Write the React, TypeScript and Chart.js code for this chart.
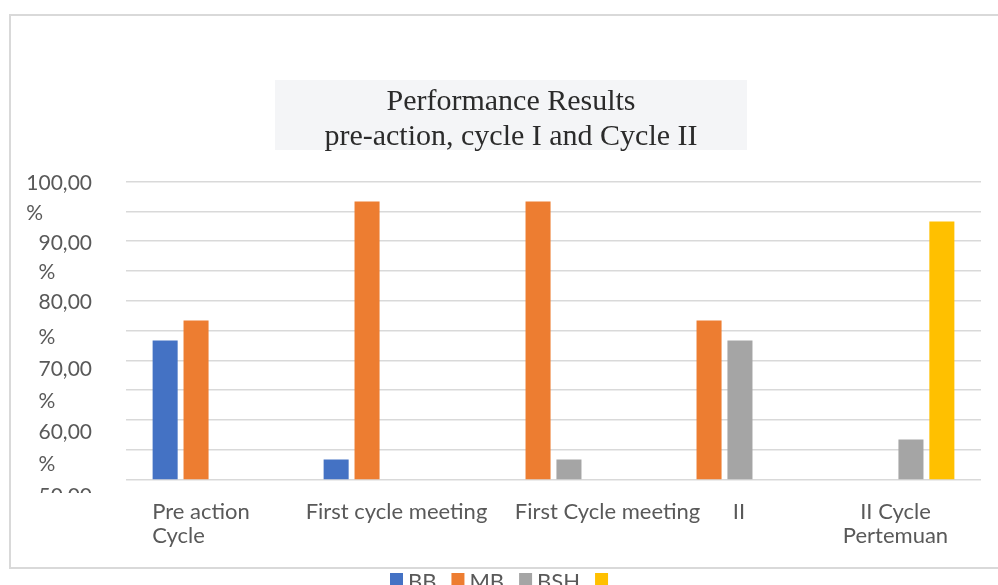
import React, { useEffect, useRef } from "react";
import { Chart, registerables } from "chart.js";

Chart.register(...registerables);

// ---- data ----
const categories = ["Pre action Cycle", "First cycle meeting", "First Cycle meeting", "II", "II Cycle Pertemuan"];
const categoryLines = [["Pre action", "Cycle"], ["First cycle meeting"], ["First Cycle meeting"], ["II"], ["II Cycle", "Pertemuan"]];
const seriesNames = ["BB", "MB", "BSH", "BSB"];
const legendLabels = ["BB", "MB", "BSH", ""];
const bbValues = [73.33, 53.33, null, null, null];
const mbValues = [76.67, 96.67, 96.67, 76.67, null];
const bshValues = [null, null, 53.33, 73.33, 56.67];
const bsbValues = [null, null, null, null, 93.33];
const yMin = 50;
const yMax = 100;
const yStep = 5;
const titleLines = ["Performance Results", "pre-action, cycle I and Cycle II"];

// ---- style ----
const colors = ["#4472C4", "#ED7D31", "#A5A5A5", "#FFC000"];
const AXIS_FONT = "Lato, 'Open Sans', sans-serif";
const TITLE_FONT = "'Liberation Serif', 'DejaVu Serif', serif";
const TEXT_COLOR = "#595959";
const labelShift = [-10.5, 14, 54, 14.5, 0];
const labelAlign = ["left", "center", "center", "center", "center"];

function fmt(v: number) {
  return v.toFixed(2).replace(".", ",");
}

const decor = {
  id: "decor",
  beforeDraw(chart: any) {
    const ctx = chart.ctx as CanvasRenderingContext2D;
    ctx.save();
    ctx.fillStyle = "#ffffff";
    ctx.fillRect(0, 0, chart.width, chart.height);
    ctx.strokeStyle = "#d9d9d9";
    ctx.lineWidth = 2;
    ctx.strokeRect(10, 15, chart.width + 20, 553);
    // title background
    ctx.fillStyle = "#f4f5f7";
    ctx.fillRect(275, 80, 472, 70);
    ctx.restore();
  },
  afterDraw(chart: any) {
    const ctx = chart.ctx as CanvasRenderingContext2D;
    const ys = chart.scales.y;
    const xs = chart.scales.x;
    ctx.save();
    // title
    ctx.fillStyle = "#2b2b2b";
    ctx.font = `30px ${TITLE_FONT}`;
    ctx.textAlign = "center";
    ctx.textBaseline = "alphabetic";
    titleLines.forEach((t, i) => ctx.fillText(t, 511, 110 + i * 35));

    // y labels
    ctx.save();
    ctx.beginPath();
    ctx.rect(0, 0, chart.width, 493);
    ctx.clip();
    ctx.font = `21px ${AXIS_FONT}`;
    ctx.fillStyle = TEXT_COLOR;
    const right = 92;
    for (let v = yMax; v >= yMin; v -= yStep) {
      const off = v >= 80 ? 1 : (80 - v) * 0.4 + 4;
      const cy = ys.getPixelForValue(v) + off;
      const base = cy + 7.5;
      if (v % 10 === 0) {
        ctx.textAlign = "right";
        ctx.fillText(fmt(v), right, base);
      } else {
        const num = fmt(v + yStep);
        const w = ctx.measureText(num).width;
        ctx.textAlign = "left";
        ctx.fillText("%", right - w, base);
      }
    }
    ctx.restore();

    // x labels
    ctx.font = `22px ${AXIS_FONT}`;
    ctx.fillStyle = TEXT_COLOR;
    categoryLines.forEach((lines, i) => {
      const c = xs.getPixelForValue(i) + labelShift[i];
      const bw = Math.max(...lines.map((l) => ctx.measureText(l).width));
      lines.forEach((l, j) => {
        const y = 519 + j * 24;
        if (labelAlign[i] === "left") {
          ctx.textAlign = "left";
          ctx.fillText(l, c - bw / 2, y);
        } else {
          ctx.textAlign = "center";
          ctx.fillText(l, c, y);
        }
      });
    });

    // legend
    let lx = 390;
    ctx.font = `22px ${AXIS_FONT}`;
    ctx.textAlign = "left";
    legendLabels.forEach((name, i) => {
      ctx.fillStyle = colors[i];
      ctx.fillRect(lx, 573, 13, 13);
      ctx.fillStyle = TEXT_COLOR;
      ctx.fillText(name, lx + 18, 589);
      lx += 18 + ctx.measureText(name).width + 15;
    });
    ctx.restore();
  },
};

export default function App() {
  const ref = useRef<HTMLCanvasElement>(null);
  useEffect(() => {
    if (!ref.current) return;
    const seriesValues = [bbValues, mbValues, bshValues, bsbValues];
    const chart = new Chart(ref.current, {
      type: "bar",
      data: {
        labels: categories,
        datasets: seriesValues.map((vals, i) => ({
          label: seriesNames[i],
          data: vals as any,
          backgroundColor: colors[i],
          borderWidth: 0,
          categoryPercentage: 0.723,
          barPercentage: 0.81,
        })),
      },
      options: {
        responsive: false,
        animation: false,
        layout: { padding: { top: 181.7, right: 17, left: 0, bottom: 0 } },
        plugins: {
          legend: { display: false },
          title: { display: false },
          tooltip: { enabled: false },
        },
        scales: {
          x: {
            grid: { display: false },
            border: { display: false },
            ticks: { display: false },
            afterFit: (s: any) => {
              s.height = 585 - 479.3;
            },
          },
          y: {
            min: yMin,
            max: yMax,
            ticks: { display: false, stepSize: yStep },
            grid: { color: "#d9d9d9", lineWidth: 1.5, drawTicks: false },
            border: { display: false },
            afterFit: (s: any) => {
              s.width = 126;
            },
          },
        },
      },
      plugins: [decor],
    });
    return () => chart.destroy();
  }, []);
  return (
    <div style={{ position: "absolute", left: 0, top: 0, width: 998, height: 585 }}>
      <canvas ref={ref} width={998} height={585} style={{ display: "block" }} />
    </div>
  );
}
